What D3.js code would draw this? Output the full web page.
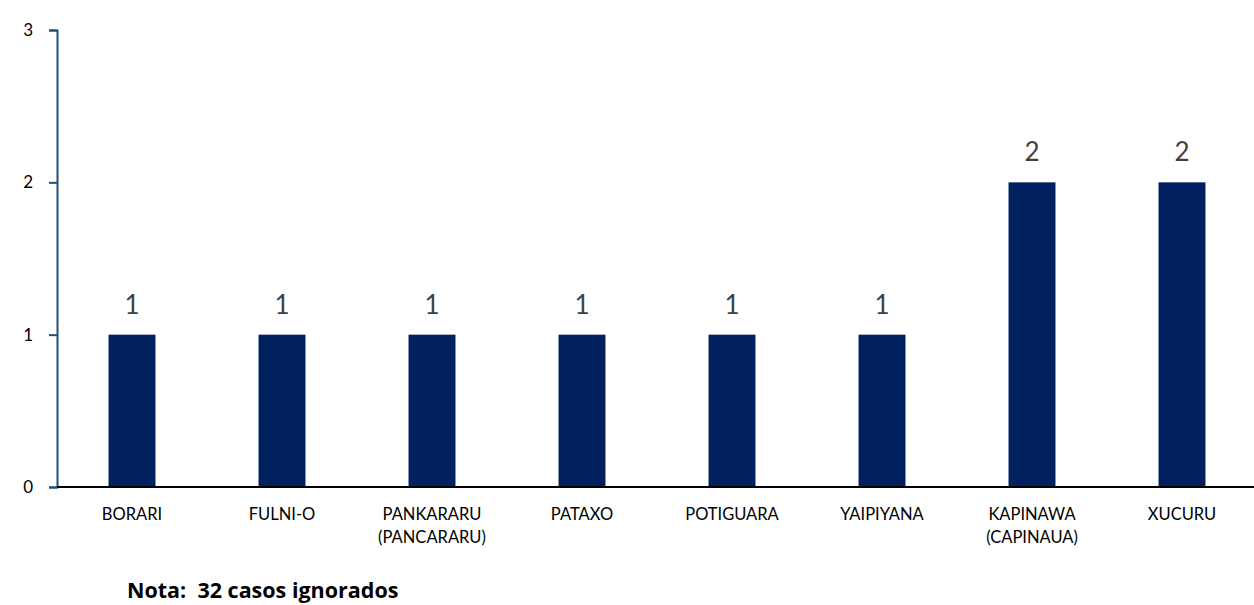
<!DOCTYPE html>
<html>
<head>
<meta charset="utf-8">
<script src="https://cdn.jsdelivr.net/npm/d3@7"></script>
<style>
  html, body { margin: 0; padding: 0; background: #fff; }
  body { width: 1254px; height: 605px; overflow: hidden; }
  text { font-family: Lato, "Open Sans", sans-serif; }
</style>
</head>
<body>
<script>
// data
const etnias = ["BORARI", "FULNI-O", "PANKARARU (PANCARARU)", "PATAXO", "POTIGUARA", "YAIPIYANA", "KAPINAWA (CAPINAUA)", "XUCURU"];
const casos = [1, 1, 1, 1, 1, 1, 2, 2];
const yTicks = [0, 1, 2, 3];
const nota = "Nota:  32 casos ignorados";

const width = 1254, height = 605;
const svg = d3.select("body").append("svg").attr("width", width).attr("height", height);

// scales
const x = d3.scaleBand().domain(etnias).range([57, 1257]).paddingInner(0.687).paddingOuter(0.3435);
const y = d3.scaleLinear().domain([0, 3]).range([487, 30]);

// bars
svg.append("g").selectAll("rect")
   .data(casos)
   .enter().append("rect")
   .attr("x", (d, i) => x(etnias[i]))
   .attr("y", d => y(d))
   .attr("width", x.bandwidth())
   .attr("height", d => y(0) - y(d))
   .style("fill", "#002060");

// value labels
svg.append("g").selectAll("text")
   .data(casos)
   .enter().append("text")
   .attr("x", (d, i) => x(etnias[i]) + x.bandwidth() / 2)
   .attr("y", d => y(d) - 21)
   .attr("text-anchor", "middle")
   .style("font-size", "26px")
   .style("fill", "#404040")
   .text(d => d);

// y axis
const yAxis = svg.append("g").attr("transform", "translate(57,0)")
   .call(d3.axisLeft(y).tickValues(yTicks).tickFormat(d3.format("d")).tickSizeOuter(0).tickSize(8).tickPadding(16));
yAxis.select(".domain").attr("stroke", "#1F4E79").attr("stroke-width", 2);
yAxis.selectAll(".tick line").attr("stroke", "#1F4E79").attr("stroke-width", 2);
yAxis.selectAll(".tick text").style("font-size", "17px").style("fill", "#000").style("font-family", "Lato, 'Open Sans', sans-serif");

// x axis baseline
svg.append("line")
   .attr("x1", 57).attr("x2", width)
   .attr("y1", y(0)).attr("y2", y(0))
   .attr("stroke", "#000").attr("stroke-width", 2);

// x labels (wrap on space before parenthesis)
const xl = svg.append("g").selectAll("text")
   .data(etnias)
   .enter().append("text")
   .attr("x", d => x(d) + x.bandwidth() / 2)
   .attr("y", 520)
   .attr("text-anchor", "middle")
   .style("font-size", "16.5px")
   .style("fill", "#000");
xl.each(function(d) {
  const parts = d.split(" (");
  const t = d3.select(this);
  t.append("tspan").attr("x", t.attr("x")).text(parts[0]);
  if (parts.length > 1) t.append("tspan").attr("x", t.attr("x")).attr("dy", 23).text("(" + parts[1]);
});

// nota
svg.append("text")
   .attr("x", 127).attr("y", 598)
   .style("font-family", "'Open Sans', sans-serif")
   .style("font-size", "21.5px")
   .style("font-weight", "bold")
   .style("white-space", "pre")
   .style("fill", "#000")
   .text(nota);
</script>
</body>
</html>
